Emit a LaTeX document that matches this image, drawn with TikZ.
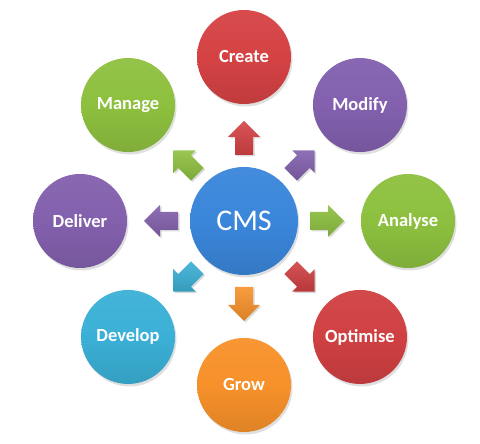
\documentclass[tikz,border=0pt]{standalone}
\usepackage{fontspec}
\setmainfont{Carlito}
\usetikzlibrary{shadows,calc}
\definecolor{cmsblue}{HTML}{3A86DA}
\definecolor{cred}{HTML}{D54244}
\definecolor{cpurple}{HTML}{8260AE}
\definecolor{cgreen}{HTML}{8DC03F}
\definecolor{cred2}{HTML}{D04042}
\definecolor{corange}{HTML}{F7912A}
\definecolor{ccyan}{HTML}{3BB0D6}
\definecolor{cpurple2}{HTML}{8360AD}
\definecolor{cgreen2}{HTML}{8EC03F}
\begin{document}
\begin{tikzpicture}[x=1pt,y=1pt,
  ball/.style={circle, minimum size=94pt, inner sep=0pt, text=white,
    top color=#1!95!white, bottom color=#1!90!black, middle color=#1,
    font=\bfseries\fontsize{18.5}{22}\selectfont,
    drop shadow={shadow xshift=1.5pt, shadow yshift=-2.5pt, opacity=0.25}},
  pics/bigarrow/.style={code={
    \path[top color=#1!90!white, bottom color=#1!88!black,
      drop shadow={shadow xshift=1.5pt, shadow yshift=-1.5pt, opacity=0.3}]
      (-9,0) -- (-9,18) -- (-16,18) -- (0,34) -- (16,18) -- (9,18) -- (9,0) -- cycle;}}
]
\useasboundingbox (0,0) rectangle (480,444);
\node[ball=cmsblue, minimum size=108pt, font=\fontsize{30}{34}\selectfont] (cms) at (244,223) {CMS};
\foreach \a/\lab/\col/\nm in {90/Create/cred/create, 45/Modify/cpurple/modify, 0/Analyse/cgreen/analyse,
  -45/Optimise/cred2/optimise, -90/Grow/corange/grow, -135/Develop/ccyan/develop,
  180/Deliver/cpurple2/deliver, 135/Manage/cgreen2/manage}{
  \node[ball=\col] (\nm) at ($(cms)+(\a:164)$) {\lab};
  \pic[rotate=\a-90] at ($(cms)+(\a:66)$) {bigarrow=\col};
}
\end{tikzpicture}
\end{document}
